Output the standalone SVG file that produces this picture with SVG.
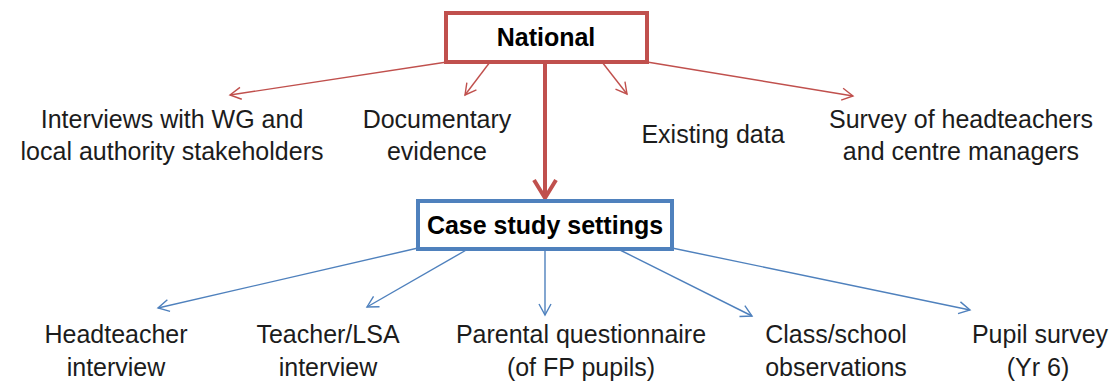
<svg xmlns="http://www.w3.org/2000/svg" width="1116" height="383" viewBox="0 0 1116 383">
<style>
.t{font-family:"Liberation Sans",Arial,sans-serif;font-size:25px;fill:#1c1c1c;text-anchor:middle}
.b{font-weight:bold;fill:#000}
.red{stroke:#C0504D;fill:none}
.blue{stroke:#4F81BD;fill:none}
</style>
<defs>
<marker id="ar" viewBox="-2 -2 15 16" refX="11" refY="6" markerWidth="15" markerHeight="16" markerUnits="userSpaceOnUse" orient="auto">
<path d="M0,0 L11,6 L0,12" fill="none" stroke="#C0504D" stroke-width="1.4"/>
</marker>
<marker id="ab" viewBox="-2 -2 15 16" refX="11" refY="6" markerWidth="15" markerHeight="16" markerUnits="userSpaceOnUse" orient="auto">
<path d="M0,0 L11,6 L0,12" fill="none" stroke="#4F81BD" stroke-width="1.4"/>
</marker>
<marker id="at" viewBox="-4 -4 26 30" refX="18" refY="11" markerWidth="26" markerHeight="30" markerUnits="userSpaceOnUse" orient="auto">
<path d="M0,0 L18,11 L0,22" fill="none" stroke="#C0504D" stroke-width="4"/>
</marker>
</defs>
<g id="connectors">
<line class="red" stroke-width="4" x1="545" y1="62" x2="545" y2="198" marker-end="url(#at)"/>
<line class="red" stroke-width="1.4" x1="447" y1="62" x2="230" y2="95" marker-end="url(#ar)"/>
<line class="red" stroke-width="1.4" x1="490" y1="62" x2="465" y2="95" marker-end="url(#ar)"/>
<line class="red" stroke-width="1.4" x1="602" y1="62" x2="627" y2="94" marker-end="url(#ar)"/>
<line class="red" stroke-width="1.4" x1="647" y1="62" x2="853" y2="96" marker-end="url(#ar)"/>
<line class="blue" stroke-width="1.4" x1="418" y1="248" x2="158" y2="308" marker-end="url(#ab)"/>
<line class="blue" stroke-width="1.4" x1="468" y1="249" x2="367" y2="307" marker-end="url(#ab)"/>
<line class="blue" stroke-width="1.4" x1="545" y1="249" x2="545" y2="315" marker-end="url(#ab)"/>
<line class="blue" stroke-width="1.4" x1="618" y1="249" x2="752" y2="316" marker-end="url(#ab)"/>
<line class="blue" stroke-width="1.4" x1="672" y1="248" x2="970" y2="310" marker-end="url(#ab)"/>
</g>
<g id="national">
<rect x="446" y="13" width="201" height="49" fill="#fff" stroke="#C0504D" stroke-width="4"/>
<text class="t b" x="546" y="46" font-size="26">National</text>
</g>
<g id="case-study">
<rect x="418" y="201" width="254" height="48" fill="#fff" stroke="#4F81BD" stroke-width="4"/>
<text class="t b" x="545" y="234">Case study settings</text>
</g>
<g id="interviews">
<text class="t" x="172" y="128">Interviews with WG and</text>
<text class="t" x="172" y="160">local authority stakeholders</text>
</g>
<g id="documentary">
<text class="t" x="437" y="128">Documentary</text>
<text class="t" x="437" y="160">evidence</text>
</g>
<g id="existing">
<text class="t" x="713" y="143">Existing data</text>
</g>
<g id="survey">
<text class="t" x="961" y="128">Survey of headteachers</text>
<text class="t" x="961" y="160">and centre managers</text>
</g>
<g id="headteacher">
<text class="t" x="116" y="343">Headteacher</text>
<text class="t" x="116" y="376">interview</text>
</g>
<g id="teacher">
<text class="t" x="328" y="343">Teacher/LSA</text>
<text class="t" x="328" y="376">interview</text>
</g>
<g id="parental">
<text class="t" x="581" y="343">Parental questionnaire</text>
<text class="t" x="581" y="376">(of FP pupils)</text>
</g>
<g id="class">
<text class="t" x="836" y="343">Class/school</text>
<text class="t" x="836" y="376">observations</text>
</g>
<g id="pupil">
<text class="t" x="1040" y="343">Pupil survey</text>
<text class="t" x="1038" y="376">(Yr 6)</text>
</g>
</svg>
